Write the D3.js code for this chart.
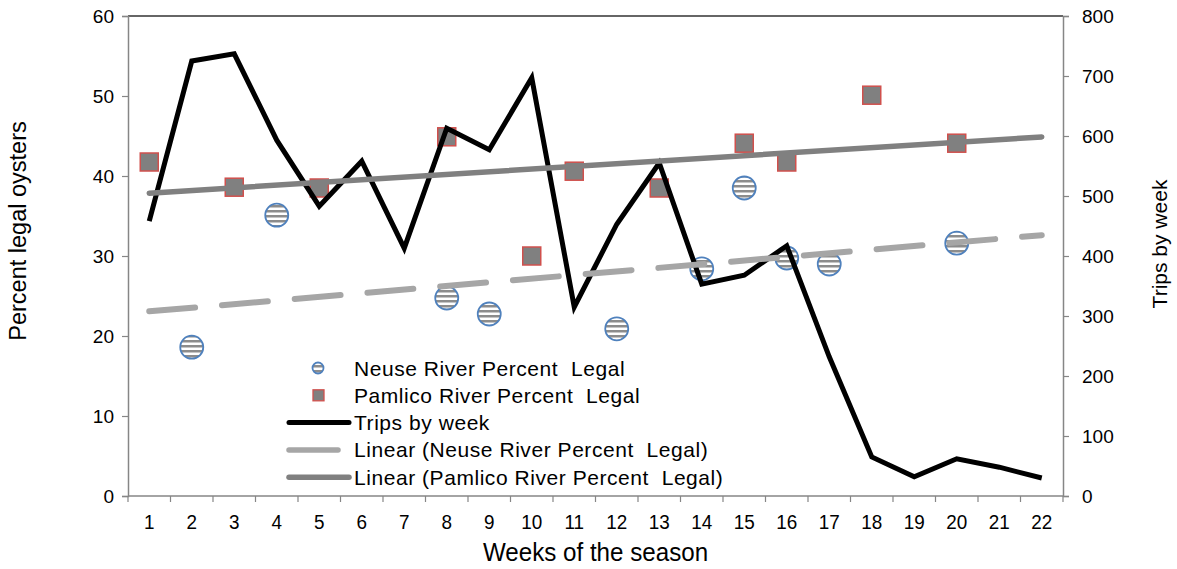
<!DOCTYPE html>
<html>
<head>
<meta charset="utf-8">
<script src="https://cdn.jsdelivr.net/npm/d3@7"></script>
<style>
  html, body { margin: 0; padding: 0; background: #fff; }
  svg text { font-family: "Liberation Sans", Arial, sans-serif; fill: #000; white-space: pre; }
</style>
</head>
<body>
<svg id="chart" width="1177" height="569"></svg>
<script>
// Weeks of the oyster season
const weeks = d3.range(1, 23);

// Weekly trip counts (right axis)
const trips = [458, 725, 737, 593, 483, 558, 413, 613, 577, 697, 315,
               453, 555, 353, 368, 417, 232, 65, 32, 62, 48, 30];

// Percent legal oysters sampled, by river (left axis)
const neuseWeeks  = [2, 4, 8, 9, 12, 14, 15, 16, 17, 20];
const neuseValues = [18.6, 35.1, 24.75, 22.75, 20.9, 28.4, 38.5, 29.75, 29, 31.6];
const pamlicoWeeks  = [1, 3, 5, 8, 10, 11, 13, 15, 16, 18, 20];
const pamlicoValues = [41.75, 38.6, 38.5, 44.9, 30, 40.6, 38.5, 44.1, 41.75, 50.1, 44.1];

const leftTicks  = [0, 10, 20, 30, 40, 50, 60];
const rightTicks = [0, 100, 200, 300, 400, 500, 600, 700, 800];

const legendLabels = [
  "Neuse River Percent  Legal",
  "Pamlico River Percent  Legal",
  "Trips by week",
  "Linear (Neuse River Percent  Legal)",
  "Linear (Pamlico River Percent  Legal)"
];

// Least-squares fit used for the "Linear (...)" trendlines
function linearFit(xs, ys) {
  const mx = d3.mean(xs), my = d3.mean(ys);
  let sxy = 0, sxx = 0;
  xs.forEach((x, i) => { sxy += (x - mx) * (ys[i] - my); sxx += (x - mx) * (x - mx); });
  const slope = sxy / sxx;
  return { slope, intercept: my - slope * mx };
}

const svg = d3.select("#chart");
const plot = { left: 128, right: 1063, top: 16, bottom: 496 };

const x = d3.scaleBand().domain(weeks).range([plot.left, plot.right]).padding(0);
const cx = w => x(w) + x.bandwidth() / 2;
const yL = d3.scaleLinear().domain([0, 60]).range([plot.bottom, plot.top]);
const yR = d3.scaleLinear().domain([0, 800]).range([plot.bottom, plot.top]);

const axisGray = "#868686";

// Striped fill for the Neuse markers
const defs = svg.append("defs");
const stripes = defs.append("pattern")
  .attr("id", "stripes").attr("patternUnits", "userSpaceOnUse")
  .attr("width", 6).attr("height", 5);
stripes.append("rect").attr("width", 6).attr("height", 5).attr("fill", "#ffffff");
stripes.append("rect").attr("width", 6).attr("height", 2.5).attr("fill", "#8c8c8c");

// Top frame line of the plot area
svg.append("line")
  .attr("x1", plot.left).attr("x2", plot.right)
  .attr("y1", plot.top).attr("y2", plot.top)
  .attr("stroke", "#333").attr("stroke-width", 1.3);

// Left axis
const gL = svg.append("g").attr("transform", `translate(${plot.left},0)`)
  .call(d3.axisLeft(yL).tickValues(leftTicks).tickSize(6).tickPadding(8));
// Right axis
const gR = svg.append("g").attr("transform", `translate(${plot.right},0)`)
  .call(d3.axisRight(yR).tickValues(rightTicks).tickSize(6).tickPadding(13));
[gL, gR].forEach(g => {
  g.select(".domain").attr("stroke", axisGray).attr("stroke-width", 1.5);
  g.selectAll(".tick line").attr("stroke", axisGray).attr("stroke-width", 1.2);
  g.selectAll(".tick text").attr("font-size", 19).attr("font-family", "Liberation Sans, Arial, sans-serif");
});

// Bottom axis: ticks on the category boundaries
const gB = svg.append("g");
gB.append("line")
  .attr("x1", plot.left).attr("x2", plot.right)
  .attr("y1", plot.bottom).attr("y2", plot.bottom)
  .attr("stroke", axisGray).attr("stroke-width", 1.5);
gB.selectAll("line.tick")
  .data(weeks.map(w => x(w)).concat([plot.right]))
  .join("line").attr("class", "tick")
  .attr("x1", d => d).attr("x2", d => d)
  .attr("y1", plot.bottom).attr("y2", plot.bottom + 6)
  .attr("stroke", axisGray).attr("stroke-width", 1.2);
gB.selectAll("text.lbl")
  .data(weeks).join("text").attr("class", "lbl")
  .attr("transform", d => `translate(${cx(d)},${plot.bottom + 33}) scale(0.9,1)`)
  .attr("text-anchor", "middle").attr("font-size", 21)
  .text(d => d);

// Axis titles
svg.append("text")
  .attr("transform", `translate(${cx(11) + x.bandwidth() / 2},${plot.bottom + 65}) scale(0.93,1)`)
  .attr("text-anchor", "middle").attr("font-size", 26)
  .text("Weeks of the season");
svg.append("text")
  .attr("transform", `translate(26,231) rotate(-90)`)
  .attr("text-anchor", "middle").attr("font-size", 23.5)
  .text("Percent legal oysters");
svg.append("text")
  .attr("transform", `translate(1167,244) rotate(-90)`)
  .attr("text-anchor", "middle").attr("font-size", 21)
  .text("Trips by week");

// Neuse markers
svg.append("g").selectAll("circle")
  .data(neuseWeeks.map((w, i) => ({ w, v: neuseValues[i] })))
  .join("circle")
  .attr("cx", d => cx(d.w)).attr("cy", d => yL(d.v)).attr("r", 11.5)
  .attr("fill", "url(#stripes)").attr("stroke", "#4F81BD").attr("stroke-width", 1.8);

// Pamlico markers
const sq = 18;
svg.append("g").selectAll("rect")
  .data(pamlicoWeeks.map((w, i) => ({ w, v: pamlicoValues[i] })))
  .join("rect")
  .attr("x", d => cx(d.w) - sq / 2).attr("y", d => yL(d.v) - sq / 2)
  .attr("width", sq).attr("height", sq)
  .attr("fill", "#808080").attr("stroke", "#D0504D").attr("stroke-width", 1.5);

// Trips line
svg.append("path")
  .datum(weeks.map((w, i) => ({ w, v: trips[i] })))
  .attr("d", d3.line().x(d => cx(d.w)).y(d => yR(d.v)))
  .attr("fill", "none").attr("stroke", "#000").attr("stroke-width", 5)
  .attr("stroke-linejoin", "miter");

// Trendlines spanning the full week range
const fitN = linearFit(neuseWeeks, neuseValues);
const fitP = linearFit(pamlicoWeeks, pamlicoValues);
const ends = [weeks[0], weeks[weeks.length - 1]];
const trend = fit => d3.line().x(w => cx(w)).y(w => yL(fit.intercept + fit.slope * w))(ends);

svg.append("path").attr("d", trend(fitN))
  .attr("fill", "none").attr("stroke", "#A6A6A6").attr("stroke-width", 6)
  .attr("stroke-linecap", "round").attr("stroke-dasharray", "46,27");
svg.append("path").attr("d", trend(fitP))
  .attr("fill", "none").attr("stroke", "#808080").attr("stroke-width", 5.5)
  .attr("stroke-linecap", "round");

// Legend
const lg = svg.append("g");
const lx0 = 289, lx1 = 349, ltx = 354, ly0 = 368, ldy = 27.3;
const rowY = i => ly0 + i * ldy;
lg.append("circle").attr("cx", 318).attr("cy", rowY(0)).attr("r", 5.5)
  .attr("fill", "url(#stripes)").attr("stroke", "#4F81BD").attr("stroke-width", 1.8);
lg.append("rect").attr("x", 313).attr("y", rowY(1) - 5.5).attr("width", 11).attr("height", 11)
  .attr("fill", "#808080").attr("stroke", "#D0504D").attr("stroke-width", 1.3);
lg.append("line").attr("x1", lx0).attr("x2", lx1).attr("y1", rowY(2)).attr("y2", rowY(2))
  .attr("stroke", "#000").attr("stroke-width", 5).attr("stroke-linecap", "round");
lg.append("line").attr("x1", lx0).attr("x2", 338).attr("y1", rowY(3)).attr("y2", rowY(3))
  .attr("stroke", "#A6A6A6").attr("stroke-width", 5.5).attr("stroke-linecap", "round");
lg.append("line").attr("x1", lx0).attr("x2", lx1).attr("y1", rowY(4)).attr("y2", rowY(4))
  .attr("stroke", "#808080").attr("stroke-width", 5.5).attr("stroke-linecap", "round");
lg.selectAll("text").data(legendLabels).join("text")
  .attr("x", ltx).attr("y", (d, i) => rowY(i) + 7.5)
  .attr("font-size", 21).attr("letter-spacing", 0.55).text(d => d);
</script>
</body>
</html>
